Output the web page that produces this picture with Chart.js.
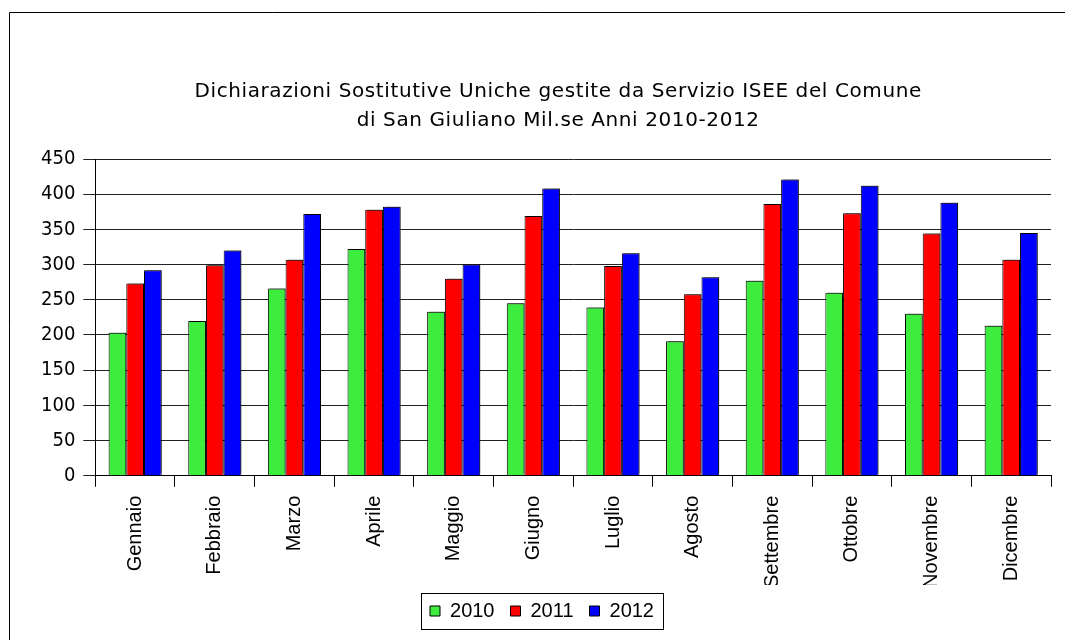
<!DOCTYPE html>
<html>
<head>
<meta charset="utf-8">
<script src="https://cdn.jsdelivr.net/npm/chart.js@4.4.1/dist/chart.umd.min.js"></script>
<style>
  html, body { margin: 0; padding: 0; background: #fff; }
  #wrap { width: 1065px; height: 640px; position: relative; }
</style>
</head>
<body>
<div id="wrap"><canvas id="isee"></canvas></div>
<script>
const titleLines = [
  "Dichiarazioni Sostitutive Uniche gestite da Servizio ISEE del Comune",
  "di San Giuliano Mil.se Anni 2010-2012"
];
const mesi = ["Gennaio", "Febbraio", "Marzo", "Aprile", "Maggio", "Giugno",
  "Luglio", "Agosto", "Settembre", "Ottobre", "Novembre", "Dicembre"];
const anni = ["2010", "2011", "2012"];
const dsu2010 = [203, 220, 266, 322, 233, 245, 239, 191, 277, 260, 230, 213];
const dsu2011 = [273, 299, 307, 378, 280, 369, 298, 258, 386, 373, 344, 307];
const dsu2012 = [292, 320, 372, 382, 300, 408, 316, 282, 421, 412, 388, 345];
const yMin = 0, yMax = 450, yStep = 50;

const colori = ["#3ded3d", "#ff0000", "#0000ff"];

// frame, title and legend box
const decor = {
  id: "decor",
  beforeDraw(chart) {
    const ctx = chart.ctx;
    ctx.save();
    ctx.fillStyle = "#fff";
    ctx.fillRect(0, 0, chart.width, chart.height);
    ctx.strokeStyle = "#000";
    ctx.lineWidth = 1;
    ctx.beginPath();
    ctx.moveTo(9.5, chart.height);
    ctx.lineTo(9.5, 12.5);
    ctx.lineTo(chart.width, 12.5);
    ctx.stroke();
    ctx.restore();
  },
  beforeDatasetsDraw(chart) {
    const ctx = chart.ctx;
    ctx.save();
    ctx.shadowColor = "rgba(0,0,0,0.4)";
    ctx.shadowOffsetX = 2;
    ctx.shadowOffsetY = -2;
    ctx.shadowBlur = 0;
  },
  afterDatasetsDraw(chart) {
    chart.ctx.restore();
  },
  afterDraw(chart) {
    const ctx = chart.ctx;
    const area = chart.chartArea;
    ctx.save();
    ctx.fillStyle = "#000";
    ctx.font = "20px 'DejaVu Sans'";
    ctx.letterSpacing = "0.6px";
    ctx.textAlign = "center";
    ctx.textBaseline = "alphabetic";
    const cx = (area.left + area.right) / 2 - 15;
    titleLines.forEach((t, i) => ctx.fillText(t, cx, area.top - 62 + i * 29));
    ctx.letterSpacing = "0px";

    const boxes = chart.legend.legendHitBoxes;
    if (boxes && boxes.length) {
      const first = boxes[0], last = boxes[boxes.length - 1];
      ctx.strokeStyle = "#000";
      ctx.lineWidth = 1;
      const l = Math.round(first.left - 9) + 0.5;
      const r = Math.round(last.left + last.width + 9) + 0.5;
      const tp = Math.round(first.top - 8) + 0.5;
      const bt = Math.round(first.top + first.height + 8) + 0.5;
      ctx.strokeRect(l, tp, r - l, bt - tp);
    }
    ctx.restore();
  }
};

new Chart(document.getElementById("isee"), {
  type: "bar",
  data: {
    labels: mesi,
    datasets: [dsu2010, dsu2011, dsu2012].map((vals, i) => ({
      label: anni[i],
      data: vals,
      backgroundColor: colori[i],
      borderColor: "#000",
      borderWidth: 1,
      categoryPercentage: 0.667,
      barPercentage: 1.0
    }))
  },
  options: {
    responsive: true,
    maintainAspectRatio: false,
    animation: false,
    layout: { padding: { top: 159, left: 33, right: 14, bottom: 9 } },
    plugins: {
      title: { display: false },
      tooltip: { enabled: false },
      legend: {
        position: "bottom",
        labels: {
          color: "#000",
          font: { family: "'Liberation Sans', Arial", size: 20 },
          boxWidth: 10,
          boxHeight: 10,
          padding: 16
        }
      }
    },
    scales: {
      x: {
        afterFit(scale) { scale.height -= 12; },
        grid: { drawOnChartArea: false, offset: true, color: "#000", tickLength: 11 },
        border: { color: "#000" },
        ticks: {
          color: "#000",
          font: { family: "'Liberation Sans', Arial", size: 20 },
          minRotation: 90,
          maxRotation: 90,
          padding: 9,
          autoSkip: false
        }
      },
      y: {
        min: yMin,
        max: yMax,
        grid: { color: "#222", tickLength: 12 },
        border: { color: "#000" },
        ticks: {
          stepSize: yStep,
          color: "#000",
          font: { family: "'DejaVu Sans Condensed', 'DejaVu Sans'", size: 20 },
          padding: 8
        }
      }
    }
  },
  plugins: [decor]
});
</script>
</body>
</html>
